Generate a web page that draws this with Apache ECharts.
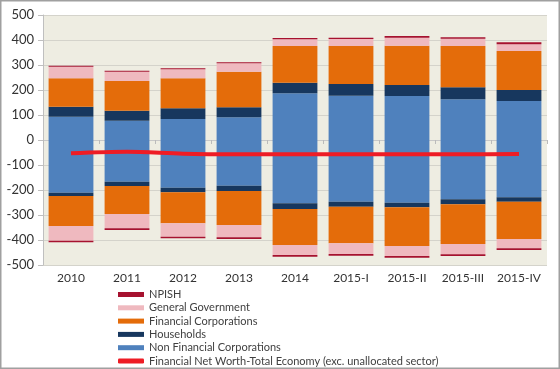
<!DOCTYPE html>
<html>
<head>
<meta charset="utf-8">
<script src="https://cdn.jsdelivr.net/npm/echarts@6/dist/echarts.min.js"></script>
<style>
html,body{margin:0;padding:0;background:#fff;}
#c{width:560px;height:369px;}
</style>
</head>
<body>
<div id="c"></div>
<script>
var categories = ['2010','2011','2012','2013','2014','2015-I','2015-II','2015-III','2015-IV'];
var yTicks = [-500,-400,-300,-200,-100,0,100,200,300,400,500];
// positive (assets) side
var nfcPos   = [93, 77, 84, 91, 187, 177, 176, 163, 156];
var hhPos    = [40, 40, 43, 40, 42, 47, 44, 48, 44];
var fcPos    = [114, 119, 120, 142, 147, 152, 157, 165, 156];
var ggPos    = [46, 37, 36, 34, 27, 28, 32, 29, 27];
var npishPos = [4, 4, 4, 4, 5, 5, 7, 6, 8];
// negative (liabilities) side
var nfcNeg   = [-211, -167, -191, -183, -253, -247, -251, -237, -229];
var hhNeg    = [-13, -17, -18, -21, -23, -20, -18, -20, -18];
var fcNeg    = [-120, -112, -124, -136, -144, -146, -155, -159, -149];
var ggNeg    = [-59, -57, -54, -49, -40, -43, -40, -41, -37];
var npishNeg = [-6, -7, -6, -7, -7, -7, -7, -7, -7];
// net worth line
var netWorth = [-53, -47, -55, -57, -57, -57, -57, -57, -56];

var names = {
  npish: 'NPISH', gg: 'General Government', fc: 'Financial Corporations',
  hh: 'Households', nfc: 'Non Financial Corporations',
  line: 'Financial Net Worth-Total Economy (exc. unallocated sector)'
};
var colors = { npish:'#a6122f', gg:'#efb9bf', fc:'#e46c0a', hh:'#17375e', nfc:'#4f81bd', line:'#ee1c25' };

function bar(key, data) {
  return {
    type: 'bar', name: names[key], stack: 'total', data: data,
    barWidth: '80%', itemStyle: { color: colors[key] }, silent: true
  };
}

var chart = echarts.init(document.getElementById('c'), null, {renderer: 'canvas'});
var font = 'Lato, "Open Sans", sans-serif';
chart.setOption({
  animation: false,
  textStyle: { fontFamily: font },
  grid: { left: 43, right: 13, top: 15, bottom: 104, show: true, backgroundColor: '#eeede2', borderWidth: 0 },
  legend: {
    orient: 'vertical', left: 118, top: 289, padding: 0, height: 90,
    itemWidth: 26, itemHeight: 5, itemGap: 2.3,
    textStyle: { fontSize: 11, color: '#404040', lineHeight: 11, fontFamily: font },
    data: [
      { name: names.npish, icon: 'rect' },
      { name: names.gg, icon: 'rect' },
      { name: names.fc, icon: 'rect' },
      { name: names.hh, icon: 'rect' },
      { name: names.nfc, icon: 'rect' },
      { name: names.line, icon: 'roundRect' }
    ]
  },
  xAxis: [
    {
      type: 'category', data: categories, position: 'bottom',
      axisLine: { show: false, onZero: false },
      axisTick: { show: false },
      axisLabel: { fontSize: 12, color: '#333', margin: 7, interval: 0, fontFamily: font }
    },
    {
      type: 'category', data: categories, position: 'bottom',
      axisLine: { show: true, onZero: true, lineStyle: { color: '#c8c8c8', width: 1 } },
      axisTick: { show: true, length: 4, interval: 0, lineStyle: { color: '#bbbbbb' } },
      axisLabel: { show: false }
    }
  ],
  yAxis: {
    type: 'value', min: yTicks[0], max: yTicks[yTicks.length - 1], interval: 100,
    axisLine: { show: true, lineStyle: { color: '#bfbfbf' } },
    axisTick: { show: true, length: 5, lineStyle: { color: '#bfbfbf' } },
    axisLabel: { fontSize: 13, color: '#333', margin: 9, fontFamily: font },
    splitLine: { show: true, lineStyle: { color: '#d4d3cb', width: 1 } }
  },
  series: [
    bar('nfc', nfcPos), bar('hh', hhPos), bar('fc', fcPos), bar('gg', ggPos), bar('npish', npishPos),
    bar('nfc', nfcNeg), bar('hh', hhNeg), bar('fc', fcNeg), bar('gg', ggNeg), bar('npish', npishNeg),
    {
      type: 'line', name: names.line, data: netWorth, smooth: 0.3, symbol: 'none', z: 10,
      lineStyle: { color: colors.line, width: 4 }, itemStyle: { color: colors.line }, silent: true
    }
  ],
  graphic: [{
    type: 'rect', shape: { x: 0.75, y: 0.75, width: 558.5, height: 367.5 },
    style: { fill: 'none', stroke: '#a0a0a0', lineWidth: 1.5 }, silent: true, z: 100
  }]
});
</script>
</body>
</html>
